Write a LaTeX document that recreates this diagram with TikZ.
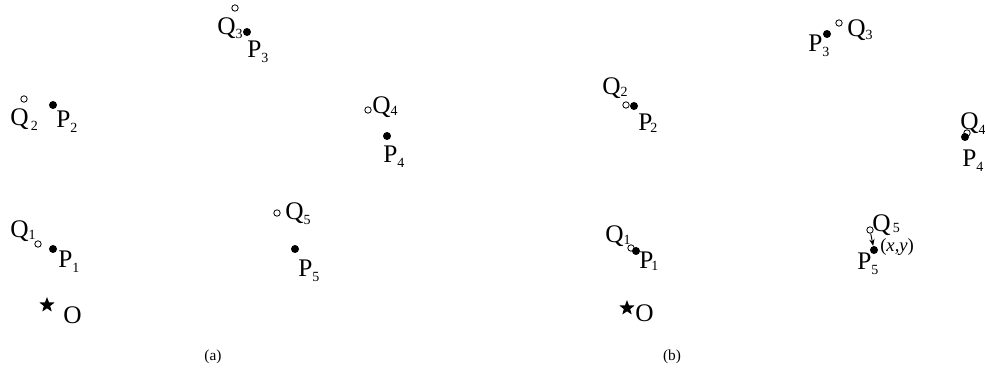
\documentclass[tikz,border=0pt]{standalone}
\usepackage{fontspec}
\setmainfont{Liberation Serif}
\usetikzlibrary{shapes.geometric,arrows.meta}
\newcommand{\lb}[3][3.75pt]{#2\raisebox{-#1}{\fontsize{10.5}{10.5}\selectfont #3}}
\tikzset{
  dotp/.style={circle,fill=black,inner sep=0pt,minimum size=6pt},
  dotq/.style={circle,draw=black,fill=white,line width=0.6pt,inner sep=0pt,minimum size=4.8pt},
  starp/.style={star,star points=5,star point ratio=2.4,fill=black,inner sep=0pt,minimum size=12pt},
  lbl/.style={inner sep=0pt,anchor=base west,font=\fontsize{19}{19}\selectfont},
  captext/.style={inner sep=0pt,font=\fontsize{11.5}{11.5}\selectfont}
}
\begin{document}
\begin{tikzpicture}[x=0.75pt,y=-0.75pt]
\useasboundingbox (0,0) rectangle (985,384);
% ---------- panel (a) ----------
\node[dotq] (q3a) at (235,8) {};
\node[dotp] (p3a) at (247,32) {};
\node[lbl] (lq3a) at (217,35) {\lb[2.5pt]{Q}{3}};
\node[lbl] (lp3a) at (247,58) {\lb{P}{3}};
\node[dotq] (q2a) at (24,99) {};
\node[dotp] (p2a) at (53,105) {};
\node[lbl] (lq2a) at (10,126) {\lb{Q}{\,2}};
\node[lbl] (lp2a) at (56,128) {\lb{P}{2}};
\node[dotq] (q4a) at (368,110) {};
\node[dotp] (p4a) at (387,136) {};
\node[lbl] (lq4a) at (372,114) {\lb[1pt]{Q}{4}};
\node[lbl] (lp4a) at (383,163) {\lb{P}{4}};
\node[dotq] (q5a) at (277,213) {};
\node[dotp] (p5a) at (295,249) {};
\node[lbl] (lq5a) at (285,220) {\lb{Q}{5}};
\node[lbl] (lp5a) at (298,277) {\lb{P}{5}};
\node[dotq] (q1a) at (38,244) {};
\node[dotp] (p1a) at (53,249) {};
\node[lbl] (lq1a) at (10,238) {\lb[1.5pt]{Q}{1}};
\node[lbl] (lp1a) at (58,268) {\lb{P}{1}};
\node[starp] (oa) at (47,305) {};
\node[lbl] (loa) at (63,324) {O};
\node[captext] (capa) at (213,357) {(a)};
% ---------- panel (b) ----------
\node[dotp] (p3b) at (827,34) {};
\node[dotq] (q3b) at (839,23) {};
\node[lbl] (lp3b) at (808,52) {\lb{P}{3}};
\node[lbl] (lq3b) at (847,37) {\lb[2pt]{Q}{3}};
\node[dotq] (q2b) at (626,105) {};
\node[dotp] (p2b) at (634,106) {};
\node[lbl] (lq2b) at (602,95) {\lb[1pt]{Q}{2}};
\node[lbl] (lp2b) at (638,131) {\lb[1pt]{P\kern-1.5pt}{2}};
\node[dotq] (q4b) at (967,133) {};
\node[dotp] (p4b) at (965,137) {};
\node[lbl] (lq4b) at (960,130) {\lb{Q}{4}};
\node[lbl] (lp4b) at (962,167) {\lb{P}{4}};
\node[dotq] (q5b) at (870,230) {};
\node[dotp] (p5b) at (874,250) {};
\draw[line width=0.7pt,-{Stealth[length=5pt,width=4pt]}] (q5b) -- (p5b);
\node[lbl] (lq5b) at (872,232) {\lb[0.5pt]{Q}{\,5}};
\node[lbl] (lp5b) at (857,270) {\lb{P}{5}};
\node[inner sep=0pt,anchor=base west,font=\fontsize{14}{14}\selectfont] (xyb) at (880,252) {(\textit{x},\textit{y})};
\node[dotq] (q1b) at (631,248) {};
\node[dotp] (p1b) at (636,251) {};
\node[lbl] (lq1b) at (605,243) {\lb[1pt]{Q}{1}};
\node[lbl] (lp1b) at (639,269) {\lb[1pt]{P\kern-1.5pt}{1}};
\node[starp] (ob) at (627,308) {};
\node[lbl] (lob) at (635,322) {O};
\node[captext] (capb) at (672,357) {(b)};
\end{tikzpicture}
\end{document}
